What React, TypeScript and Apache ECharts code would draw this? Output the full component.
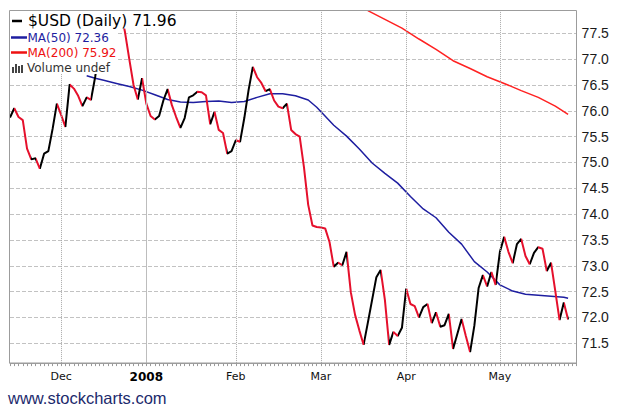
import React, { useEffect, useRef } from "react";
import * as echarts from "echarts";

// ---- calendar (NYSE trading days shown on the chart) ----
const HOLIDAYS = ["2007-11-22", "2007-12-25", "2008-01-01", "2008-01-21", "2008-02-18", "2008-03-21", "2008-05-26"];
const FIRST_DAY = [2007, 10, 14];
const LAST_DAY = [2008, 4, 28];
const MONTH_LABELS: Record<string, string> = {
  "2007-12": "Dec",
  "2008-01": "2008",
  "2008-02": "Feb",
  "2008-03": "Mar",
  "2008-04": "Apr",
  "2008-05": "May",
};

// ---- $USD daily close ----
const PRICE = [
  75.87, 76.05, 75.88, 75.82, 75.27, 75.06, 75.08, 74.88, 75.17, 75.22,
  75.65, 76.14, 75.92, 75.69, 76.51, 76.43, 76.29, 76.09, 76.26, 76.21,
  76.66, 77.2, 77.5, 77.75, 77.85, 77.9, 77.93, 77.52, 77.0, 76.5,
  76.22, 76.63, 76.14, 75.9, 75.83, 75.9, 76.2, 76.42, 76.11, 75.88,
  75.67, 75.86, 76.26, 76.3, 76.37, 76.36, 76.3, 75.74, 75.98, 75.63,
  75.57, 75.17, 75.22, 75.43, 75.4, 75.86, 76.4, 76.85, 76.65, 76.54,
  76.38, 76.42, 76.2, 76.08, 76.05, 76.14, 75.63, 75.55, 75.5, 74.91,
  74.18, 73.78, 73.75, 73.74, 73.72, 73.46, 72.98, 73.06, 73.01, 73.27,
  72.49, 72.05, 71.75, 71.47, 71.9, 72.34, 72.78, 72.92, 72.34, 71.47,
  71.72, 71.64, 71.8, 72.56, 72.26, 72.22, 72.0, 72.2, 72.26, 71.89,
  72.1, 71.82, 71.85, 72.07, 71.39, 71.68, 71.97, 71.64, 71.33, 71.84,
  72.57, 72.82, 72.6, 72.88, 72.63, 73.27, 73.56, 73.27, 73.05, 73.42,
  73.52, 73.19, 73.03, 73.25, 73.36, 73.33, 72.9, 73.06, 72.51, 71.95,
  72.29, 71.96,
];

// ---- moving averages: [trading-day index, value] ----
const MA50: [number, number][] = [
  [18, 76.68], [20, 76.63], [22, 76.59], [25, 76.53], [28, 76.47], [31, 76.4],
  [34, 76.31], [37, 76.22], [40, 76.17], [43, 76.16], [46, 76.18], [49, 76.19],
  [52, 76.16], [55, 76.18], [58, 76.26], [61, 76.33], [64, 76.33], [67, 76.29],
  [70, 76.21], [72, 76.07], [73, 75.98], [76, 75.72], [79, 75.51], [82, 75.26],
  [85, 74.99], [88, 74.79], [91, 74.6], [94, 74.34], [97, 74.1], [100, 73.93],
  [103, 73.65], [106, 73.42], [109, 73.08], [112, 72.88], [115, 72.63], [118, 72.51],
  [121, 72.45], [124, 72.43], [127, 72.41], [130, 72.39], [131, 72.37],
];
const MA200: [number, number][] = [
  [84, 77.94], [88, 77.77], [92, 77.6], [96, 77.39], [100, 77.19], [104, 76.97],
  [108, 76.82], [112, 76.66], [116, 76.53], [120, 76.39], [124, 76.26], [128, 76.09],
  [131, 75.93],
];

const Y_TICKS = { min: 71, max: 78, step: 0.5 };
const PLOT_Y = { bottom: 71.12, top: 77.95 };

const UP = "#000000";
const DOWN = "#e5102c";
const MA50_COLOR = "#1e1ea0";
const MA200_COLOR = "#ff2222";
const GRID_COLOR = "#c2c2c2";
const BORDER = "#9c9c9c";

function tradingDays(): string[] {
  const out: string[] = [];
  const d = new Date(Date.UTC(FIRST_DAY[0], FIRST_DAY[1], FIRST_DAY[2]));
  const end = Date.UTC(LAST_DAY[0], LAST_DAY[1], LAST_DAY[2]);
  while (d.getTime() <= end) {
    const wd = d.getUTCDay();
    const s = d.toISOString().slice(0, 10);
    if (wd !== 0 && wd !== 6 && !HOLIDAYS.includes(s)) out.push(s);
    d.setUTCDate(d.getUTCDate() + 1);
  }
  return out;
}

export default function App() {
  const ref = useRef<HTMLDivElement>(null);
  useEffect(() => {
    document.body.style.margin = "0";
    if (!ref.current) return;
    const chart = echarts.init(ref.current, undefined, { renderer: "svg" });
    const dates = tradingDays();
    const monthStarts: number[] = [];
    dates.forEach((d, i) => {
      if (i > 0 && d.slice(0, 7) !== dates[i - 1].slice(0, 7) && MONTH_LABELS[d.slice(0, 7)]) monthStarts.push(i);
    });
    const monthSet = new Set(monthStarts);

    // piecewise colours: black for rising segments, red for falling ones
    const pieces: any[] = [];
    let start = 0;
    let up = PRICE[1] >= PRICE[0];
    for (let i = 1; i < PRICE.length - 1; i++) {
      const u = PRICE[i + 1] >= PRICE[i];
      if (u !== up) {
        pieces.push({ gte: start, lt: i, color: up ? UP : DOWN });
        start = i;
        up = u;
      }
    }
    pieces.push({ gte: start, lte: PRICE.length - 1, color: up ? UP : DOWN });

    const monthLines = monthStarts.map((i) => {
      const isYear = MONTH_LABELS[dates[i].slice(0, 7)] === "2008";
      return [
        {
          coord: [dates[i], PLOT_Y.bottom],
          lineStyle: isYear
            ? { type: "solid", color: "#bdbdbd", width: 1 }
            : { type: "dotted", color: "#a8a8a8", width: 1 },
        },
        { coord: [dates[i], PLOT_Y.top] },
      ];
    });

    const nLines = Math.round((Y_TICKS.max - Y_TICKS.min) / Y_TICKS.step) + 1;
    const splitColors = Array.from({ length: nLines }, (_, k) =>
      k === 0 || k === nLines - 1 ? "rgba(0,0,0,0)" : GRID_COLOR
    );

    const legendFont = "DejaVu Sans";
    chart.setOption({
      animation: false,
      backgroundColor: "#ffffff",
      grid: { left: 10, right: 43.4, top: 7.5, bottom: 37.9, containLabel: false },
      xAxis: {
        type: "category",
        data: dates,
        boundaryGap: false,
        offset: -6,
        axisLine: { show: true, lineStyle: { color: BORDER, width: 1 } },
        axisTick: { show: true, interval: 0, length: 3, lineStyle: { color: "#9a9a9a", width: 1 } },
        splitLine: { show: false },
        axisLabel: {
          interval: (index: number) => monthSet.has(index),
          margin: 8,
          color: "#111",
          fontFamily: legendFont,
          fontSize: 11,
          formatter: (v: string) => {
            const lab = MONTH_LABELS[v.slice(0, 7)] || "";
            return lab === "2008" ? "{b|2008}" : lab;
          },
          rich: { b: { fontWeight: "bold", fontSize: 12, fontFamily: legendFont, color: "#000" } },
        },
      },
      yAxis: {
        type: "value",
        position: "right",
        min: Y_TICKS.min,
        max: Y_TICKS.max,
        interval: Y_TICKS.step,
        axisLine: { show: false },
        axisTick: { show: false },
        axisLabel: {
          showMinLabel: false,
          showMaxLabel: false,
          margin: 5,
          color: "#1a1a1a",
          fontFamily: "Liberation Sans",
          fontSize: 14,
          formatter: (v: number) => v.toFixed(1),
        },
        splitLine: {
          show: true,
          lineStyle: { color: splitColors, type: "dashed", width: 1 },
        },
      },
      visualMap: {
        type: "piecewise",
        show: false,
        seriesIndex: 0,
        dimension: 0,
        pieces,
        outOfRange: { color: UP },
      },
      series: [
        {
          name: "$USD",
          type: "line",
          data: PRICE,
          showSymbol: false,
          symbol: "none",
          lineStyle: { width: 2 },
          z: 4,
        },
        {
          name: "MA(50)",
          type: "line",
          data: MA50.map(([i, v]) => [dates[i], v]),
          showSymbol: false,
          symbol: "none",
          color: MA50_COLOR,
          lineStyle: { width: 1.5, color: MA50_COLOR },
          z: 3,
        },
        {
          name: "MA(200)",
          type: "line",
          data: MA200.map(([i, v]) => [dates[i], v]),
          showSymbol: false,
          symbol: "none",
          color: MA200_COLOR,
          lineStyle: { width: 1.5, color: MA200_COLOR },
          z: 3,
        },
        {
          name: "months",
          type: "line",
          data: [],
          z: 1,
          markLine: {
            silent: true,
            symbol: ["none", "none"],
            label: { show: false },
            animation: false,
            data: monthLines,
          },
        },
      ],
      graphic: [
        { type: "rect", z: 90, shape: { x: 0, y: 0, width: 620, height: 10 }, style: { fill: "#fff" } },
        { type: "rect", z: 95, shape: { x: 10, y: 11, width: 171, height: 17.5 }, style: { fill: "#fff" } },
        { type: "rect", z: 95, shape: { x: 10, y: 11, width: 108, height: 63 }, style: { fill: "#fff" } },
        {
          type: "rect",
          z: 99,
          shape: { x: 9.5, y: 10.5, width: 567, height: 352.5 },
          style: { fill: "none", stroke: BORDER, lineWidth: 1 },
        },
        { type: "line", z: 100, shape: { x1: 12, y1: 21, x2: 22, y2: 21 }, style: { stroke: "#000", lineWidth: 2.5 } },
        {
          type: "text", z: 100, x: 28, y: 21,
          style: { text: "$USD (Daily) 71.96", fill: "#000", fontSize: 15.5, fontFamily: legendFont, verticalAlign: "middle", align: "left" },
        },
        { type: "line", z: 100, shape: { x1: 11, y1: 37.5, x2: 27, y2: 37.5 }, style: { stroke: MA50_COLOR, lineWidth: 2.5 } },
        {
          type: "text", z: 100, x: 27.5, y: 37.5,
          style: { text: "MA(50) 72.36", fill: MA50_COLOR, fontSize: 12, fontFamily: legendFont, verticalAlign: "middle", align: "left" },
        },
        { type: "line", z: 100, shape: { x1: 11, y1: 52.5, x2: 27, y2: 52.5 }, style: { stroke: "#ee1111", lineWidth: 2.5 } },
        {
          type: "text", z: 100, x: 27.5, y: 52.5,
          style: { text: "MA(200) 75.92", fill: "#ee1111", fontSize: 12, fontFamily: legendFont, verticalAlign: "middle", align: "left" },
        },
        { type: "rect", z: 100, shape: { x: 12, y: 67, width: 2, height: 6 }, style: { fill: "#444" } },
        { type: "rect", z: 100, shape: { x: 15, y: 64, width: 2, height: 9 }, style: { fill: "#444" } },
        { type: "rect", z: 100, shape: { x: 18, y: 66, width: 2, height: 7 }, style: { fill: "#444" } },
        { type: "rect", z: 100, shape: { x: 21, y: 65, width: 2, height: 8 }, style: { fill: "#444" } },
        {
          type: "text", z: 100, x: 27, y: 68,
          style: { text: "Volume undef", fill: "#333", fontSize: 12, fontFamily: legendFont, verticalAlign: "middle", align: "left" },
        },
        {
          type: "text", z: 100, x: 8, y: 398,
          style: { text: "www.stockcharts.com", fill: "#1c2a6c", fontSize: 16.5, fontFamily: "Liberation Sans", verticalAlign: "middle", align: "left" },
        },
      ],
    });
    return () => chart.dispose();
  }, []);
  return <div ref={ref} style={{ width: 620, height: 407 }} />;
}
